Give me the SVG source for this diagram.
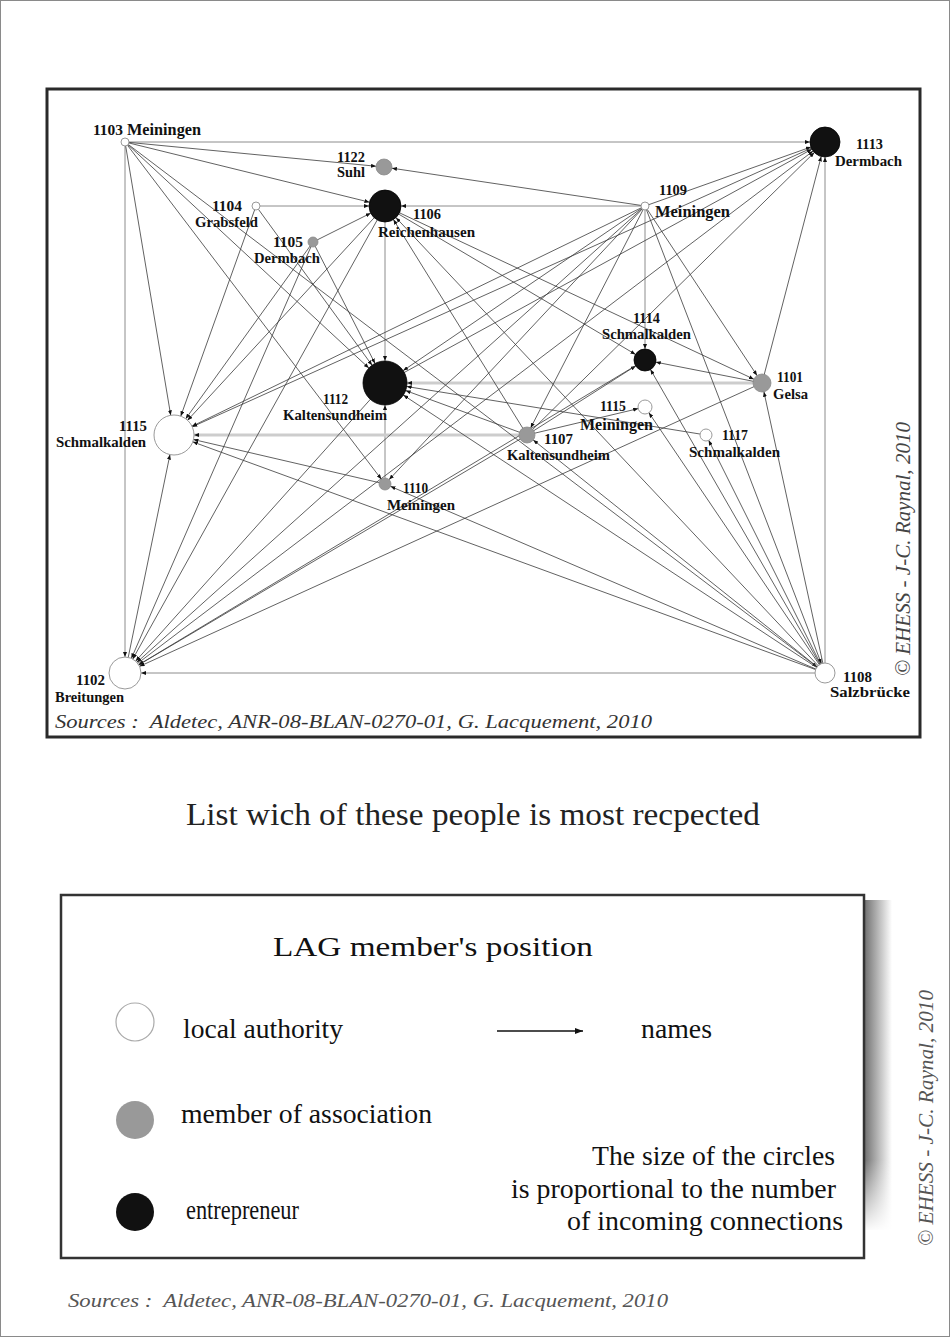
<svg xmlns="http://www.w3.org/2000/svg" width="950" height="1337" viewBox="0 0 950 1337">
<defs>
<style>
.e{stroke:#3a3a3a;stroke-width:.8;fill:none}
.a{stroke:#8c8c8c;stroke-width:1;fill:none}
.t{stroke:#cdcdcd;stroke-width:3;fill:none}
.w{fill:#fff;stroke:#9a9a9a;stroke-width:1}
.g{fill:#999;stroke:#8a8a8a;stroke-width:.8}
.b{fill:#111;stroke:#000;stroke-width:.8}
.l{font-family:"Liberation Serif",serif;font-weight:bold;font-size:14px;fill:#111}
.lm{font-size:16px}
.s{font-family:"Liberation Serif",serif;font-style:italic}
.lg{font-family:"Liberation Serif",serif;font-size:27.5px;fill:#111}
.ah{fill:#111}
</style>
<marker id="m6" viewBox="0 0 5 4" markerUnits="userSpaceOnUse" markerWidth="5" markerHeight="4" refX="11" refY="2" orient="auto"><path class="ah" d="M0,0L5,2L0,4z"/></marker>
<marker id="m7" viewBox="0 0 5 4" markerUnits="userSpaceOnUse" markerWidth="5" markerHeight="4" refX="12" refY="2" orient="auto"><path class="ah" d="M0,0L5,2L0,4z"/></marker>
<marker id="m8" viewBox="0 0 5 4" markerUnits="userSpaceOnUse" markerWidth="5" markerHeight="4" refX="13" refY="2" orient="auto"><path class="ah" d="M0,0L5,2L0,4z"/></marker>
<marker id="m9" viewBox="0 0 5 4" markerUnits="userSpaceOnUse" markerWidth="5" markerHeight="4" refX="14" refY="2" orient="auto"><path class="ah" d="M0,0L5,2L0,4z"/></marker>
<marker id="m10" viewBox="0 0 5 4" markerUnits="userSpaceOnUse" markerWidth="5" markerHeight="4" refX="15" refY="2" orient="auto"><path class="ah" d="M0,0L5,2L0,4z"/></marker>
<marker id="m11" viewBox="0 0 5 4" markerUnits="userSpaceOnUse" markerWidth="5" markerHeight="4" refX="16" refY="2" orient="auto"><path class="ah" d="M0,0L5,2L0,4z"/></marker>
<marker id="m15" viewBox="0 0 5 4" markerUnits="userSpaceOnUse" markerWidth="5" markerHeight="4" refX="20" refY="2" orient="auto"><path class="ah" d="M0,0L5,2L0,4z"/></marker>
<marker id="m16" viewBox="0 0 5 4" markerUnits="userSpaceOnUse" markerWidth="5" markerHeight="4" refX="21" refY="2" orient="auto"><path class="ah" d="M0,0L5,2L0,4z"/></marker>
<marker id="m20" viewBox="0 0 5 4" markerUnits="userSpaceOnUse" markerWidth="5" markerHeight="4" refX="25" refY="2" orient="auto"><path class="ah" d="M0,0L5,2L0,4z"/></marker>
<marker id="m22" viewBox="0 0 5 4" markerUnits="userSpaceOnUse" markerWidth="5" markerHeight="4" refX="27" refY="2" orient="auto"><path class="ah" d="M0,0L5,2L0,4z"/></marker>
<marker id="mlg" viewBox="0 0 8 6" markerUnits="userSpaceOnUse" markerWidth="8" markerHeight="6" refX="8" refY="3" orient="auto"><path class="ah" d="M0,0L8,3L0,6z"/></marker>
<linearGradient id="sh" x1="0" x2="1" y1="0" y2="0"><stop offset="0" stop-color="#6e6e6e"/><stop offset="1" stop-color="#fff"/></linearGradient>
<linearGradient id="shv" x1="0" x2="0" y1="0" y2="1"><stop offset="0" stop-color="#fff" stop-opacity="0"/><stop offset="1" stop-color="#fff"/></linearGradient>
</defs>
<rect x="0" y="0" width="950" height="1337" fill="#fff"/>
<rect x="0.5" y="0.5" width="949" height="1336" fill="none" stroke="#8a8a8a" stroke-width="1"/>
<rect x="47" y="89" width="873" height="648" fill="none" stroke="#2a2a2a" stroke-width="3"/>

<g id="connectors">
<line class="a" x1="125" y1="142" x2="825" y2="142" marker-end="url(#m15)"/>
<line class="a" x1="125" y1="142" x2="125" y2="673" marker-end="url(#m16)"/>
<line class="a" x1="825" y1="673" x2="125" y2="673" marker-end="url(#m16)"/>
<line class="a" x1="825" y1="673" x2="825" y2="142" marker-end="url(#m15)"/>
<line class="a" x1="256" y1="206" x2="385" y2="206" marker-end="url(#m16)"/>
<line class="a" x1="645" y1="206" x2="385" y2="206" marker-end="url(#m16)"/>
<line class="a" x1="385" y1="206" x2="385" y2="383" marker-end="url(#m22)"/>
<line class="a" x1="385" y1="484" x2="385" y2="383" marker-end="url(#m22)"/>
<line class="a" x1="645" y1="206" x2="645" y2="360" marker-end="url(#m11)"/>
<line class="t" x1="762" y1="383" x2="385" y2="383" marker-end="url(#m22)"/>
<line class="t" x1="527" y1="435" x2="174" y2="435" marker-end="url(#m20)"/>
<line class="e" x1="125" y1="142" x2="384" y2="167" marker-end="url(#m8)"/>
<line class="e" x1="125" y1="142" x2="385" y2="206" marker-end="url(#m16)"/>
<line class="e" x1="125" y1="142" x2="174" y2="435" marker-end="url(#m20)"/>
<line class="e" x1="125" y1="142" x2="385" y2="383" marker-end="url(#m22)"/>
<line class="e" x1="125" y1="142" x2="385" y2="484" marker-end="url(#m6)"/>
<line class="e" x1="125" y1="142" x2="825" y2="673" marker-end="url(#m10)"/>
<line class="e" x1="256" y1="206" x2="385" y2="383" marker-end="url(#m22)"/>
<line class="e" x1="256" y1="206" x2="174" y2="435" marker-end="url(#m20)"/>
<line class="e" x1="313" y1="242" x2="385" y2="206" marker-end="url(#m16)"/>
<line class="e" x1="313" y1="242" x2="385" y2="383" marker-end="url(#m22)"/>
<line class="e" x1="313" y1="242" x2="174" y2="435" marker-end="url(#m20)"/>
<line class="e" x1="313" y1="242" x2="125" y2="673" marker-end="url(#m16)"/>
<line class="e" x1="385" y1="206" x2="174" y2="435" marker-end="url(#m20)"/>
<line class="e" x1="385" y1="206" x2="125" y2="673" marker-end="url(#m16)"/>
<line class="e" x1="385" y1="206" x2="645" y2="360" marker-end="url(#m11)"/>
<line class="e" x1="385" y1="206" x2="762" y2="383" marker-end="url(#m9)"/>
<line class="e" x1="527" y1="435" x2="385" y2="206" marker-end="url(#m16)"/>
<line class="e" x1="825" y1="673" x2="385" y2="206" marker-end="url(#m16)"/>
<line class="e" x1="645" y1="206" x2="825" y2="142" marker-end="url(#m15)"/>
<line class="e" x1="645" y1="206" x2="384" y2="167" marker-end="url(#m8)"/>
<line class="e" x1="645" y1="206" x2="762" y2="383" marker-end="url(#m9)"/>
<line class="e" x1="645" y1="206" x2="385" y2="383" marker-end="url(#m22)"/>
<line class="e" x1="645" y1="206" x2="174" y2="435" marker-end="url(#m20)"/>
<line class="e" x1="645" y1="206" x2="125" y2="673" marker-end="url(#m16)"/>
<line class="e" x1="645" y1="206" x2="527" y2="435" marker-end="url(#m8)"/>
<line class="e" x1="645" y1="206" x2="825" y2="673" marker-end="url(#m10)"/>
<line class="e" x1="645" y1="206" x2="385" y2="484" marker-end="url(#m6)"/>
<line class="e" x1="762" y1="383" x2="645" y2="360" marker-end="url(#m11)"/>
<line class="e" x1="762" y1="383" x2="825" y2="142" marker-end="url(#m15)"/>
<line class="e" x1="762" y1="383" x2="125" y2="673" marker-end="url(#m16)"/>
<line class="e" x1="527" y1="435" x2="385" y2="383" marker-end="url(#m22)"/>
<line class="e" x1="527" y1="435" x2="825" y2="142" marker-end="url(#m15)"/>
<line class="e" x1="527" y1="435" x2="645" y2="360" marker-end="url(#m11)"/>
<line class="e" x1="527" y1="435" x2="125" y2="673" marker-end="url(#m16)"/>
<line class="e" x1="527" y1="435" x2="645" y2="407" marker-end="url(#m7)"/>
<line class="e" x1="385" y1="484" x2="174" y2="435" marker-end="url(#m20)"/>
<line class="e" x1="125" y1="673" x2="174" y2="435" marker-end="url(#m20)"/>
<line class="e" x1="125" y1="673" x2="825" y2="142" marker-end="url(#m15)"/>
<line class="e" x1="825" y1="673" x2="762" y2="383" marker-end="url(#m9)"/>
<line class="e" x1="825" y1="673" x2="645" y2="407" marker-end="url(#m7)"/>
<line class="e" x1="825" y1="673" x2="706" y2="435" marker-end="url(#m6)"/>
<line class="e" x1="825" y1="673" x2="527" y2="435" marker-end="url(#m8)"/>
<line class="e" x1="825" y1="673" x2="385" y2="383" marker-end="url(#m22)"/>
<line class="e" x1="825" y1="673" x2="174" y2="435" marker-end="url(#m20)"/>
<line class="e" x1="825" y1="673" x2="385" y2="484" marker-end="url(#m6)"/>
<line class="e" x1="825" y1="673" x2="645" y2="360" marker-end="url(#m11)"/>
<line class="e" x1="706" y1="435" x2="385" y2="383" marker-end="url(#m22)"/>
<line class="e" x1="385" y1="383" x2="125" y2="673" marker-end="url(#m16)"/>
<line class="e" x1="385" y1="383" x2="825" y2="142" marker-end="url(#m15)"/>
<line class="e" x1="645" y1="360" x2="125" y2="673" marker-end="url(#m16)"/>
<line class="e" x1="825" y1="142" x2="174" y2="435" marker-end="url(#m20)"/>
</g>

<g id="n1103"><circle class="w" cx="125" cy="142" r="4"/><text class="l" x="93" y="135" textLength="30" lengthAdjust="spacingAndGlyphs">1103</text><text class="l lm" x="127" y="135" textLength="74" lengthAdjust="spacingAndGlyphs">Meiningen</text></g>
<g id="n1122"><circle class="g" cx="384" cy="167" r="8"/><text class="l" x="337" y="162" textLength="28" lengthAdjust="spacingAndGlyphs">1122</text><text class="l" x="337" y="177" textLength="28" lengthAdjust="spacingAndGlyphs">Suhl</text></g>
<g id="n1104"><circle class="w" cx="256" cy="206" r="4"/><text class="l" x="212" y="211" textLength="30" lengthAdjust="spacingAndGlyphs">1104</text><text class="l" x="195" y="227" textLength="63" lengthAdjust="spacingAndGlyphs">Grabsfeld</text></g>
<g id="n1105"><circle class="g" cx="313" cy="242" r="5"/><text class="l" x="273" y="247" textLength="30" lengthAdjust="spacingAndGlyphs">1105</text><text class="l" x="254" y="263" textLength="66" lengthAdjust="spacingAndGlyphs">Dermbach</text></g>
<g id="n1106"><circle class="b" cx="385" cy="206" r="16"/><text class="l" x="413" y="219" textLength="28" lengthAdjust="spacingAndGlyphs">1106</text><text class="l" x="378" y="237" textLength="97" lengthAdjust="spacingAndGlyphs">Reichenhausen</text></g>
<g id="n1113"><circle class="b" cx="825" cy="142" r="15"/><text class="l" x="856" y="149" textLength="27" lengthAdjust="spacingAndGlyphs">1113</text><text class="l" x="835" y="166" textLength="67" lengthAdjust="spacingAndGlyphs">Dermbach</text></g>
<g id="n1109"><circle class="w" cx="645" cy="206" r="4"/><text class="l" x="659" y="195" textLength="28" lengthAdjust="spacingAndGlyphs">1109</text><text class="l lm" x="655" y="217" textLength="75" lengthAdjust="spacingAndGlyphs">Meiningen</text></g>
<g id="n1114"><circle class="b" cx="645" cy="360" r="11"/><text class="l" x="633" y="323" textLength="27" lengthAdjust="spacingAndGlyphs">1114</text><text class="l" x="602" y="339" textLength="89" lengthAdjust="spacingAndGlyphs">Schmalkalden</text></g>
<g id="n1101"><circle class="g" cx="762" cy="383" r="9"/><text class="l" x="777" y="382" textLength="26" lengthAdjust="spacingAndGlyphs">1101</text><text class="l" x="773" y="399" textLength="35" lengthAdjust="spacingAndGlyphs">Gelsa</text></g>
<g id="n1115m"><circle class="w" cx="645" cy="407" r="7"/><text class="l" x="600" y="411" textLength="26" lengthAdjust="spacingAndGlyphs">1115</text><text class="l lm" x="580" y="430" textLength="73" lengthAdjust="spacingAndGlyphs">Meiningen</text></g>
<g id="n1117"><circle class="w" cx="706" cy="435" r="6"/><text class="l" x="722" y="440" textLength="26" lengthAdjust="spacingAndGlyphs">1117</text><text class="l" x="689" y="457" textLength="91" lengthAdjust="spacingAndGlyphs">Schmalkalden</text></g>
<g id="n1112"><circle class="b" cx="385" cy="383" r="22"/><text class="l" x="323" y="404" textLength="25" lengthAdjust="spacingAndGlyphs">1112</text><text class="l" x="283" y="420" textLength="104" lengthAdjust="spacingAndGlyphs">Kaltensundheim</text></g>
<g id="n1107"><circle class="g" cx="527" cy="435" r="8"/><text class="l" x="544" y="444" textLength="29" lengthAdjust="spacingAndGlyphs">1107</text><text class="l" x="507" y="460" textLength="103" lengthAdjust="spacingAndGlyphs">Kaltensundheim</text></g>
<g id="n1110"><circle class="g" cx="385" cy="484" r="6"/><text class="l" x="403" y="493" textLength="25" lengthAdjust="spacingAndGlyphs">1110</text><text class="l" x="387" y="510" textLength="68" lengthAdjust="spacingAndGlyphs">Meiningen</text></g>
<g id="n1115s"><circle class="w" cx="174" cy="435" r="20"/><text class="l" x="119" y="431" textLength="28" lengthAdjust="spacingAndGlyphs">1115</text><text class="l" x="56" y="447" textLength="90" lengthAdjust="spacingAndGlyphs">Schmalkalden</text></g>
<g id="n1102"><circle class="w" cx="125" cy="673" r="16"/><text class="l" x="76" y="685" textLength="29" lengthAdjust="spacingAndGlyphs">1102</text><text class="l" x="55" y="702" textLength="69" lengthAdjust="spacingAndGlyphs">Breitungen</text></g>
<g id="n1108"><circle class="w" cx="825" cy="673" r="10"/><text class="l" x="843" y="682" textLength="29" lengthAdjust="spacingAndGlyphs">1108</text><text class="l" x="830" y="697" textLength="80" lengthAdjust="spacingAndGlyphs">Salzbrücke</text></g>

<text class="s" x="55" y="728" font-size="19" fill="#333" textLength="597" lengthAdjust="spacingAndGlyphs" xml:space="preserve">Sources :  Aldetec, ANR-08-BLAN-0270-01, G. Lacquement, 2010</text>
<text class="s" transform="translate(910,676) rotate(-90)" font-size="21" fill="#444" textLength="254" lengthAdjust="spacingAndGlyphs">© EHESS - J-C. Raynal, 2010</text>

<text x="186" y="825" font-family="Liberation Serif, serif" font-size="31" fill="#222" textLength="574" lengthAdjust="spacingAndGlyphs">List wich of these people is most recpected</text>

<g id="legend">
<rect x="864" y="900" width="28" height="330" fill="url(#sh)"/>
<rect x="862" y="1160" width="34" height="72" fill="url(#shv)"/>
<rect x="61" y="895" width="803" height="363" fill="#fff" stroke="#333" stroke-width="2.5"/>
<text class="lg" x="273" y="956" font-size="31" textLength="320" lengthAdjust="spacingAndGlyphs">LAG member's position</text>
<circle cx="135" cy="1022" r="19" fill="#fff" stroke="#aaa" stroke-width="1.2"/>
<text class="lg" x="183" y="1038" textLength="160" lengthAdjust="spacingAndGlyphs">local authority</text>
<line x1="497" y1="1031" x2="583" y2="1031" stroke="#111" stroke-width="1.5" marker-end="url(#mlg)"/>
<text class="lg" x="641" y="1038" textLength="71" lengthAdjust="spacingAndGlyphs">names</text>
<circle cx="135" cy="1120" r="19" fill="#999"/>
<text class="lg" x="181" y="1123" textLength="251" lengthAdjust="spacingAndGlyphs">member of association</text>
<circle cx="135" cy="1212" r="19" fill="#111"/>
<text class="lg" x="186" y="1219" textLength="113" lengthAdjust="spacingAndGlyphs">entrepreneur</text>
<text class="lg" x="592" y="1165" textLength="243" lengthAdjust="spacingAndGlyphs">The size of the circles</text>
<text class="lg" x="511" y="1198" textLength="325" lengthAdjust="spacingAndGlyphs">is proportional to the number</text>
<text class="lg" x="567" y="1230" textLength="276" lengthAdjust="spacingAndGlyphs">of incoming connections</text>
</g>

<text class="s" transform="translate(933,1246) rotate(-90)" font-size="20" fill="#555" textLength="256" lengthAdjust="spacingAndGlyphs">© EHESS - J-C. Raynal, 2010</text>
<text class="s" x="68" y="1307" font-size="18" fill="#555" textLength="600" lengthAdjust="spacingAndGlyphs" xml:space="preserve">Sources :  Aldetec, ANR-08-BLAN-0270-01, G. Lacquement, 2010</text>
</svg>
